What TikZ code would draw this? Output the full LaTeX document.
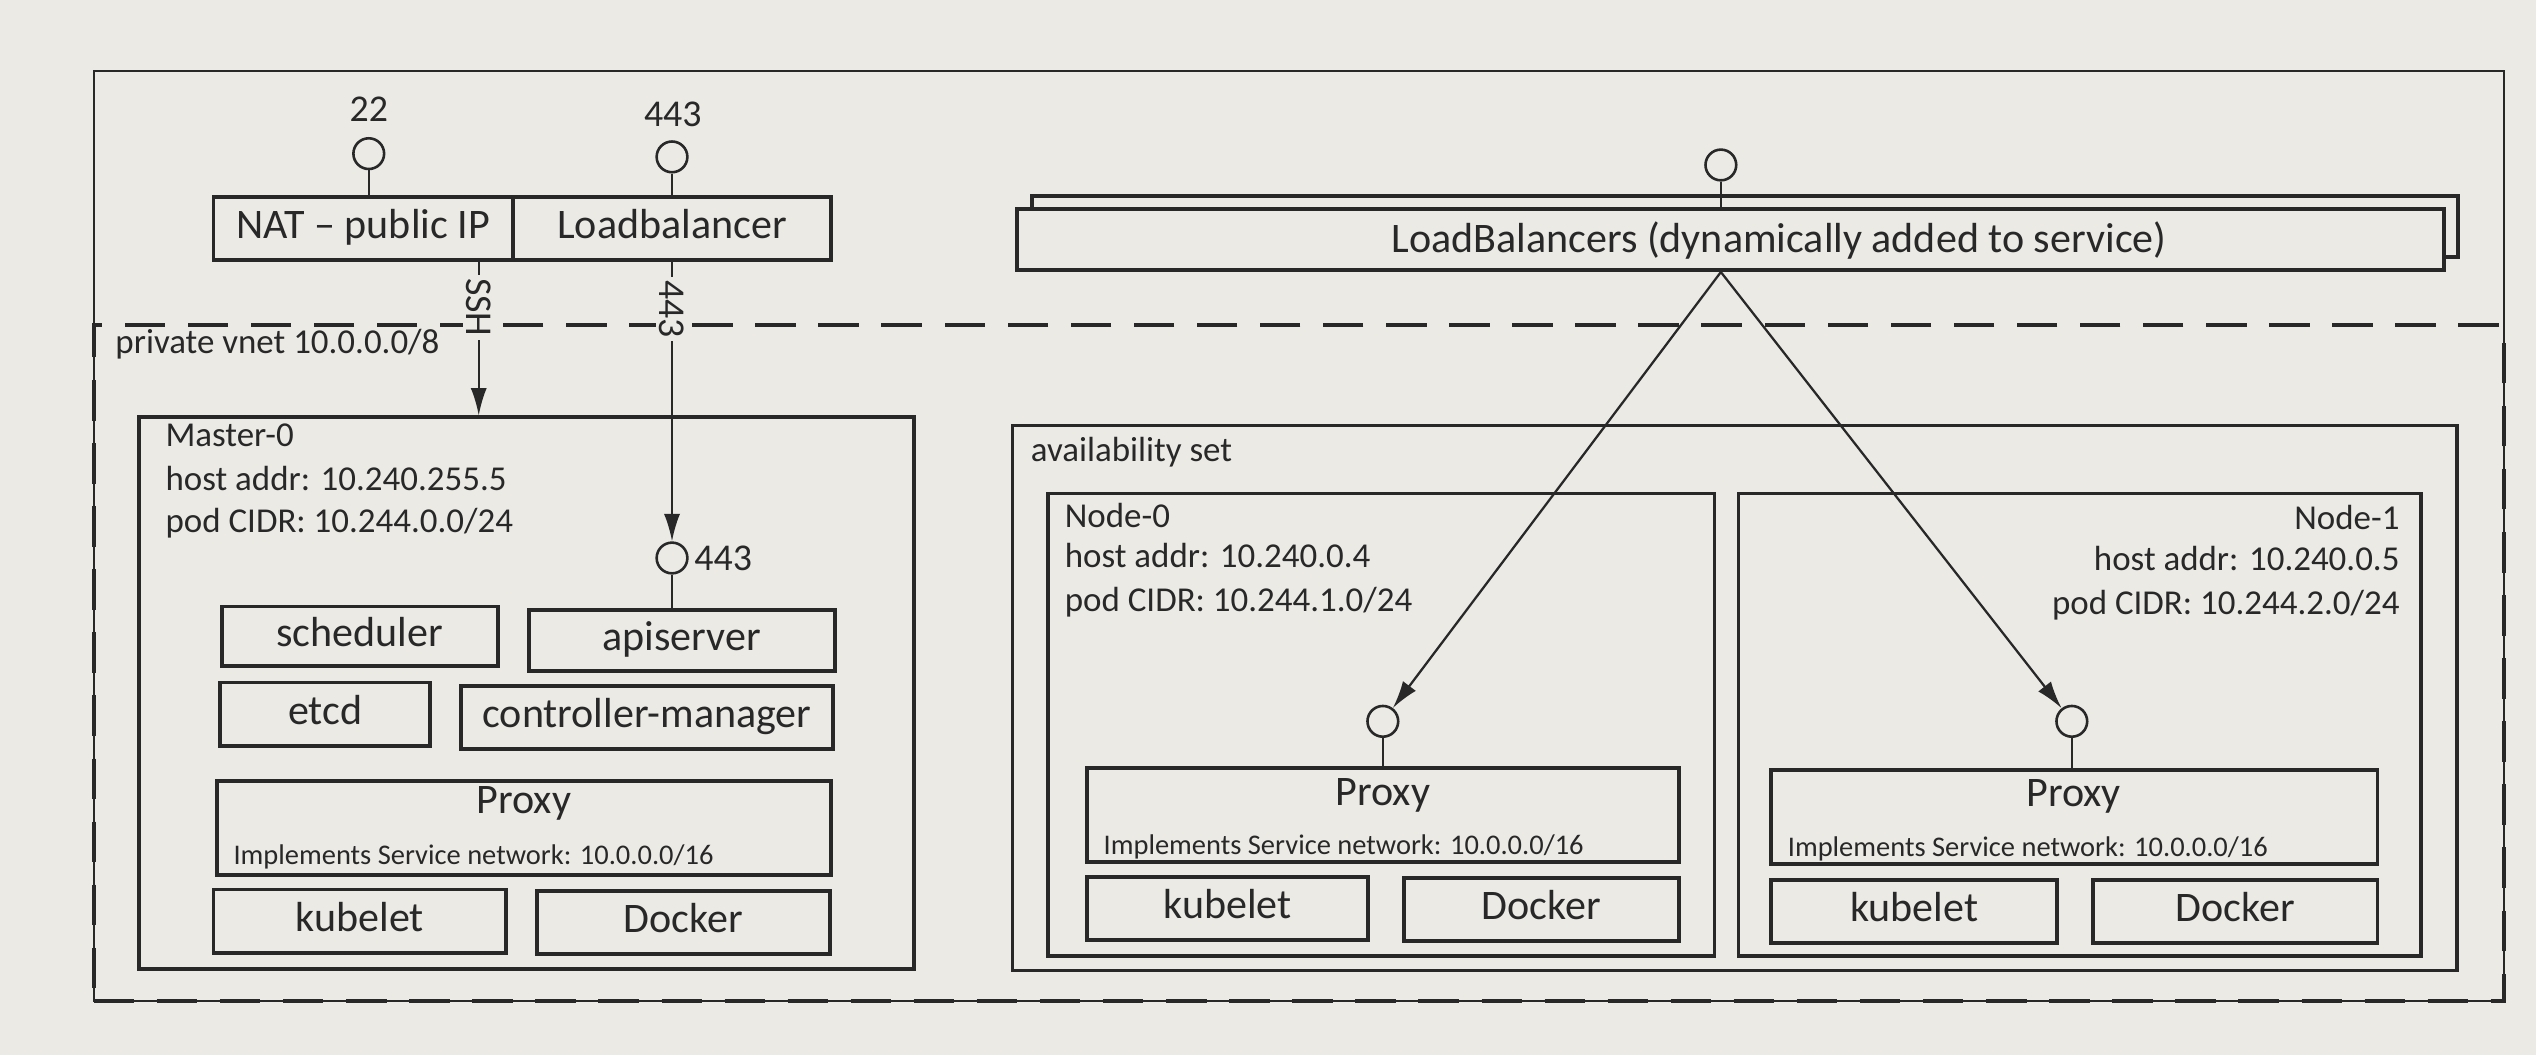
\documentclass[tikz,border=0pt]{standalone}
\usepackage{fontspec}
\setmainfont{Carlito}
\usetikzlibrary{arrows.meta,calc}
\definecolor{paper}{RGB}{236,234,229}
\definecolor{ink}{RGB}{40,40,40}
\newcommand{\mkbox}[7]{\node[#1, minimum width={(#4-#2)*0.5pt}, minimum height={(#5-#3)*0.5pt}] (#6) at ({(#2+#4)/2},{(#3+#5)/2}) {#7};}
\begin{document}
\begin{tikzpicture}[x=0.5pt,y=-0.5pt,
  bx/.style={draw=ink, line width=1.2pt, fill=paper, inner sep=0pt, text=ink,
    font=\fontsize{13}{15}\selectfont, text height=0.75em, text depth=0.13em},
  frame/.style={draw=ink, line width=1.1pt, inner sep=0pt},
  outerframe/.style={draw=ink, line width=0.7pt, inner sep=0pt},
  vnetframe/.style={draw=ink, line width=1.2pt, inner sep=0pt, dash pattern=on 12.5pt off 7pt},
  lbl/.style={font=\fontsize{13}{15}\selectfont, text=ink, inner sep=0pt},
  small/.style={font=\fontsize{10.8}{13}\selectfont, text=ink, inner sep=0pt},
  tiny/.style={font=\fontsize{8.8}{10}\selectfont, text=ink, inner sep=0pt},
  num/.style={font=\fontsize{11.7}{14}\selectfont, text=ink, inner sep=0pt},
  port/.style={circle, draw=ink, line width=0.8pt, fill=paper, minimum size=9.5pt, inner sep=0pt},
  conn/.style={draw=ink, line width=0.7pt},
  arr/.style={conn, -{Latex[length=8.5pt,width=5pt]}},
  onlinelbl/.style={num, rotate=-90, fill=paper, inner sep=1pt},
]
\fill[paper] (0,0) rectangle (1568,652);
\useasboundingbox (0,0) rectangle (1568,652);

% frames
\mkbox{outerframe}{58}{44}{1548}{619}{outer}{}
\mkbox{vnetframe}{58}{201}{1548}{619}{vnet}{}
\node[small, anchor=base west] (vnetlbl) at (71,218.5) {private vnet 10.0.0.0/8};

% top-left: NAT and Loadbalancer
\mkbox{bx}{132}{122}{317}{161}{nat}{NAT -- public IP}
\mkbox{bx}{317}{122}{514}{161}{lb}{Loadbalancer}
\node[port] (p22) at (228,95) {};
\node[num, anchor=base] (l22) at (228,75) {22};
\node[port] (p443) at (415.5,97) {};
\node[num, anchor=base] (l443) at (416,78) {443};
\draw[conn] (p22.south) -- (p22.south |- nat.north);
\draw[conn] (p443.south) -- (p443.south |- lb.north);

% Master-0
\mkbox{frame}{86}{258}{565}{599}{master}{}
\node[small, anchor=base west] (mname) at (102,276) {Master-0};
\node[small, anchor=base west] (mhost) at (102,303) {host addr: 10.240.255.5};
\node[small, anchor=base west] (mcidr) at (102,329) {pod CIDR: 10.244.0.0/24};
\node[port] (m443) at (415.5,345) {};
\node[num, anchor=base west] (m443l) at (429,353) {443};
\mkbox{bx}{137}{375}{308}{412}{sched}{scheduler}
\mkbox{bx}{327}{377}{516}{415}{api}{apiserver}
\mkbox{bx}{136}{422}{266}{461}{etcd}{etcd}
\mkbox{bx}{285}{424}{515}{463}{cm}{controller-manager}
\mkbox{bx}{134}{483}{514}{541}{mproxy}{}
\node[lbl, anchor=base] (mproxyt) at (324,503) {Proxy};
\node[tiny, anchor=base west] (mproxyi) at (144,534.5) {Implements Service network: 10.0.0.0/16};
\mkbox{bx}{132}{550}{313}{589}{mkub}{kubelet}
\mkbox{bx}{332}{551}{513}{590}{mdock}{Docker}

% connectors left
\coordinate (sshs) at ([xshift=35.75pt]nat.south);
\draw[arr] (sshs) -- (sshs |- master.north);
\node[onlinelbl] (sshl) at (296,190) {SSH};
\draw[arr] (lb.south) -- (m443.north);
\node[onlinelbl] (lb443l) at (415.5,191) {443};
\draw[conn] (m443.south) -- (m443.south |- api.north);

% LoadBalancers stack
\mkbox{bx}{638}{121}{1520}{159}{lbb}{}
\mkbox{bx}{629}{129}{1511}{167}{lbf}{}
\node[lbl, anchor=base] (lbft) at (1100,156) {LoadBalancers (dynamically added to service)};
\node[port] (lbport) at (1064,102) {};
\draw[conn] (lbport.south) -- (lbport.south |- lbf.north);

% availability set
\mkbox{frame}{626}{263}{1519}{600}{avail}{}
\node[small, anchor=base west] (availl) at (637,285.5) {availability set};

% Node-0
\mkbox{frame}{648}{305}{1060}{591}{n0}{}
\node[small, anchor=base west] (n0name) at (658,326) {Node-0};
\node[small, anchor=base west] (n0host) at (658,351) {host addr: 10.240.0.4};
\node[small, anchor=base west] (n0cidr) at (658,378) {pod CIDR: 10.244.1.0/24};
\node[port] (n0port) at (855,446) {};
\mkbox{bx}{672}{475}{1038}{533}{n0proxy}{}
\node[lbl, anchor=base] (n0proxyt) at (855,498) {Proxy};
\node[tiny, anchor=base west] (n0proxyi) at (682,528.5) {Implements Service network: 10.0.0.0/16};
\mkbox{bx}{672}{542}{846}{581}{n0kub}{kubelet}
\mkbox{bx}{868}{543}{1038}{582}{n0dock}{Docker}
\draw[conn] (n0port.south) -- (n0port.south |- n0proxy.north);

% Node-1
\mkbox{frame}{1075}{305}{1497}{591}{n1}{}
\node[small, anchor=base east] (n1name) at (1484,327.5) {Node-1};
\node[small, anchor=base east] (n1host) at (1484,353) {host addr: 10.240.0.5};
\node[small, anchor=base east] (n1cidr) at (1484,380) {pod CIDR: 10.244.2.0/24};
\node[port] (n1port) at (1281,446) {};
\mkbox{bx}{1095}{476}{1470}{534}{n1proxy}{}
\node[lbl, anchor=base] (n1proxyt) at (1282,498.5) {Proxy};
\node[tiny, anchor=base west] (n1proxyi) at (1105,529.5) {Implements Service network: 10.0.0.0/16};
\mkbox{bx}{1095}{544}{1272}{583}{n1kub}{kubelet}
\mkbox{bx}{1294}{544}{1470}{583}{n1dock}{Docker}
\draw[conn] (n1port.south) -- (n1port.south |- n1proxy.north);

% LB arrows
\coordinate (lbo) at ([xshift=-3pt]lbf.south);
\draw[arr] (lbo) -- (n0port);
\draw[arr] (lbo) -- (n1port);
\end{tikzpicture}
\end{document}
